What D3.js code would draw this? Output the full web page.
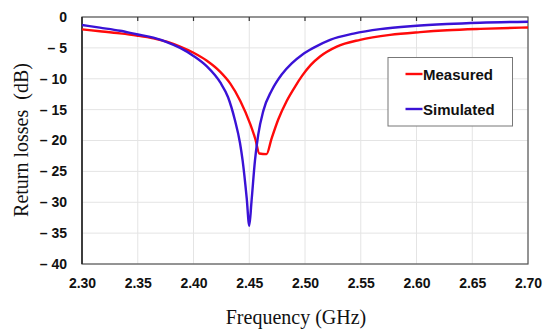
<!DOCTYPE html>
<html><head><meta charset="utf-8">
<script src="https://cdn.jsdelivr.net/npm/d3@7"></script>
<style>body{margin:0;background:#fff}svg{display:block}</style>
</head><body>
<svg id="c" width="550" height="330"></svg>
<script>
const measuredFreq = [2.300,2.316,2.334,2.349,2.364,2.376,2.388,2.400,2.412,2.424,2.433,2.442,2.451,2.4555,2.459,2.4655,2.470,2.476,2.4836,2.491,2.4975,2.505,2.5135,2.5285,2.5494,2.5763,2.6032,2.6274,2.6571,2.700];
const measuredDb   = [-2.0,-2.3,-2.65,-3.0,-3.45,-4.0,-4.8,-5.8,-7.1,-8.9,-10.8,-13.6,-17.4,-19.8,-22.1,-22.2,-19.7,-16.6,-13.6,-11.3,-9.5,-7.8,-6.4,-4.8,-3.7,-2.9,-2.45,-2.15,-1.92,-1.7];
const simulatedFreq = [2.300,2.316,2.334,2.349,2.364,2.376,2.388,2.400,2.412,2.424,2.431,2.437,2.4417,2.4441,2.4477,2.450,2.4521,2.4551,2.4581,2.4626,2.4701,2.4791,2.4881,2.4975,2.5075,2.5225,2.5435,2.5673,2.5973,2.6272,2.6571,2.700];
const simulatedDb   = [-1.3,-1.73,-2.22,-2.8,-3.35,-4.05,-5.0,-6.3,-8.0,-10.6,-13.0,-16.6,-20.4,-23.3,-29.3,-33.8,-29.7,-23.3,-19.0,-15.2,-11.9,-9.3,-7.5,-6.1,-5.0,-3.7,-2.7,-1.97,-1.46,-1.14,-0.93,-0.76];
const xTicks = [2.30,2.35,2.40,2.45,2.50,2.55,2.60,2.65,2.70];
const yTicks = [0,-5,-10,-15,-20,-25,-30,-35,-40];
const seriesNames = ["Measured","Simulated"];
const seriesColors = ["#ff0a0a","#3a12d6"];

const svg = d3.select("#c");
const L=82,R=528,T=17,B=264;
const x = d3.scaleLinear().domain([2.30,2.70]).range([L,R]);
const y = d3.scaleLinear().domain([-40,0]).range([B,T]);

// grid
const g = svg.append("g");
g.selectAll("line.vx").data(xTicks).enter().append("line")
 .attr("x1",d=>x(d)).attr("x2",d=>x(d)).attr("y1",T).attr("y2",B)
 .attr("stroke","#e4e4e4").attr("stroke-width",1);
g.selectAll("line.hy").data(yTicks).enter().append("line")
 .attr("x1",L).attr("x2",R).attr("y1",d=>y(d)).attr("y2",d=>y(d))
 .attr("stroke","#e4e4e4").attr("stroke-width",1);

// frame
svg.append("rect").attr("x",L).attr("y",T).attr("width",R-L).attr("height",B-T)
 .attr("fill","none").attr("stroke","#555").attr("stroke-width",1.2);
svg.append("line").attr("x1",L).attr("x2",L).attr("y1",T).attr("y2",B).attr("stroke","#222").attr("stroke-width",1.5);
// top ticks
svg.selectAll("line.tt").data(xTicks.slice(1,-1)).enter().append("line")
 .attr("x1",d=>x(d)).attr("x2",d=>x(d)).attr("y1",T).attr("y2",T+4)
 .attr("stroke","#333").attr("stroke-width",1.2);

// axes labels via d3 axes
const xAxis = d3.axisBottom(x).tickValues(xTicks).tickFormat(d3.format(".2f")).tickSize(0).tickPadding(14);
const xa = svg.append("g").attr("transform",`translate(0,${B})`).call(xAxis);
xa.select(".domain").remove();
xa.selectAll("text").attr("font-family","Liberation Sans, Arial, sans-serif").attr("font-weight","bold").attr("font-size","14px").attr("fill","#111");

const yAxis = d3.axisLeft(y).tickValues(yTicks).tickFormat(d=> d===0 ? "0" : "\u2013 " + Math.abs(d)).tickSize(0).tickPadding(15);
const ya = svg.append("g").attr("transform",`translate(${L},0)`).call(yAxis);
ya.select(".domain").remove();
ya.selectAll("text").attr("font-family","Liberation Sans, Arial, sans-serif").attr("font-weight","bold").attr("font-size","14px").attr("fill","#111");

// lines
const line = d3.line().x(d=>x(d[0])).y(d=>y(d[1])).curve(d3.curveMonotoneX);
const series = [d3.zip(measuredFreq,measuredDb), d3.zip(simulatedFreq,simulatedDb)];
svg.selectAll("path.s").data(series).enter().append("path")
 .attr("d",line).attr("fill","none")
 .attr("stroke",(d,i)=>seriesColors[i]).attr("stroke-width",2.4).attr("stroke-linejoin","round");

// legend
const lg = svg.append("g");
lg.append("rect").attr("x",388).attr("y",57.5).attr("width",124.5).attr("height",68.5)
 .attr("fill","#fff").attr("stroke","#777").attr("stroke-width",1);
seriesNames.forEach((n,i)=>{
  const yy = 74 + i*35;
  lg.append("line").attr("x1",405.5).attr("x2",422.5).attr("y1",yy).attr("y2",yy)
   .attr("stroke",seriesColors[i]).attr("stroke-width",2.4);
  lg.append("text").attr("x",423).attr("y",yy+5.5).text(n)
   .attr("font-family","Liberation Sans, Arial, sans-serif").attr("font-weight","bold").attr("font-size","15px").attr("fill","#111");
});

// titles
svg.append("text").attr("x",296).attr("y",324).attr("text-anchor","middle")
 .attr("font-family","Liberation Serif, Times New Roman, serif").attr("font-size","20px").attr("fill","#111")
 .text("Frequency (GHz)");
svg.append("text").attr("transform","translate(28,140) rotate(-90)").attr("text-anchor","middle")
 .attr("font-family","Liberation Serif, Times New Roman, serif").attr("font-size","20px").attr("fill","#111")
 .style("white-space","pre").text("Return losses  (dB)");
</script>
</body></html>
